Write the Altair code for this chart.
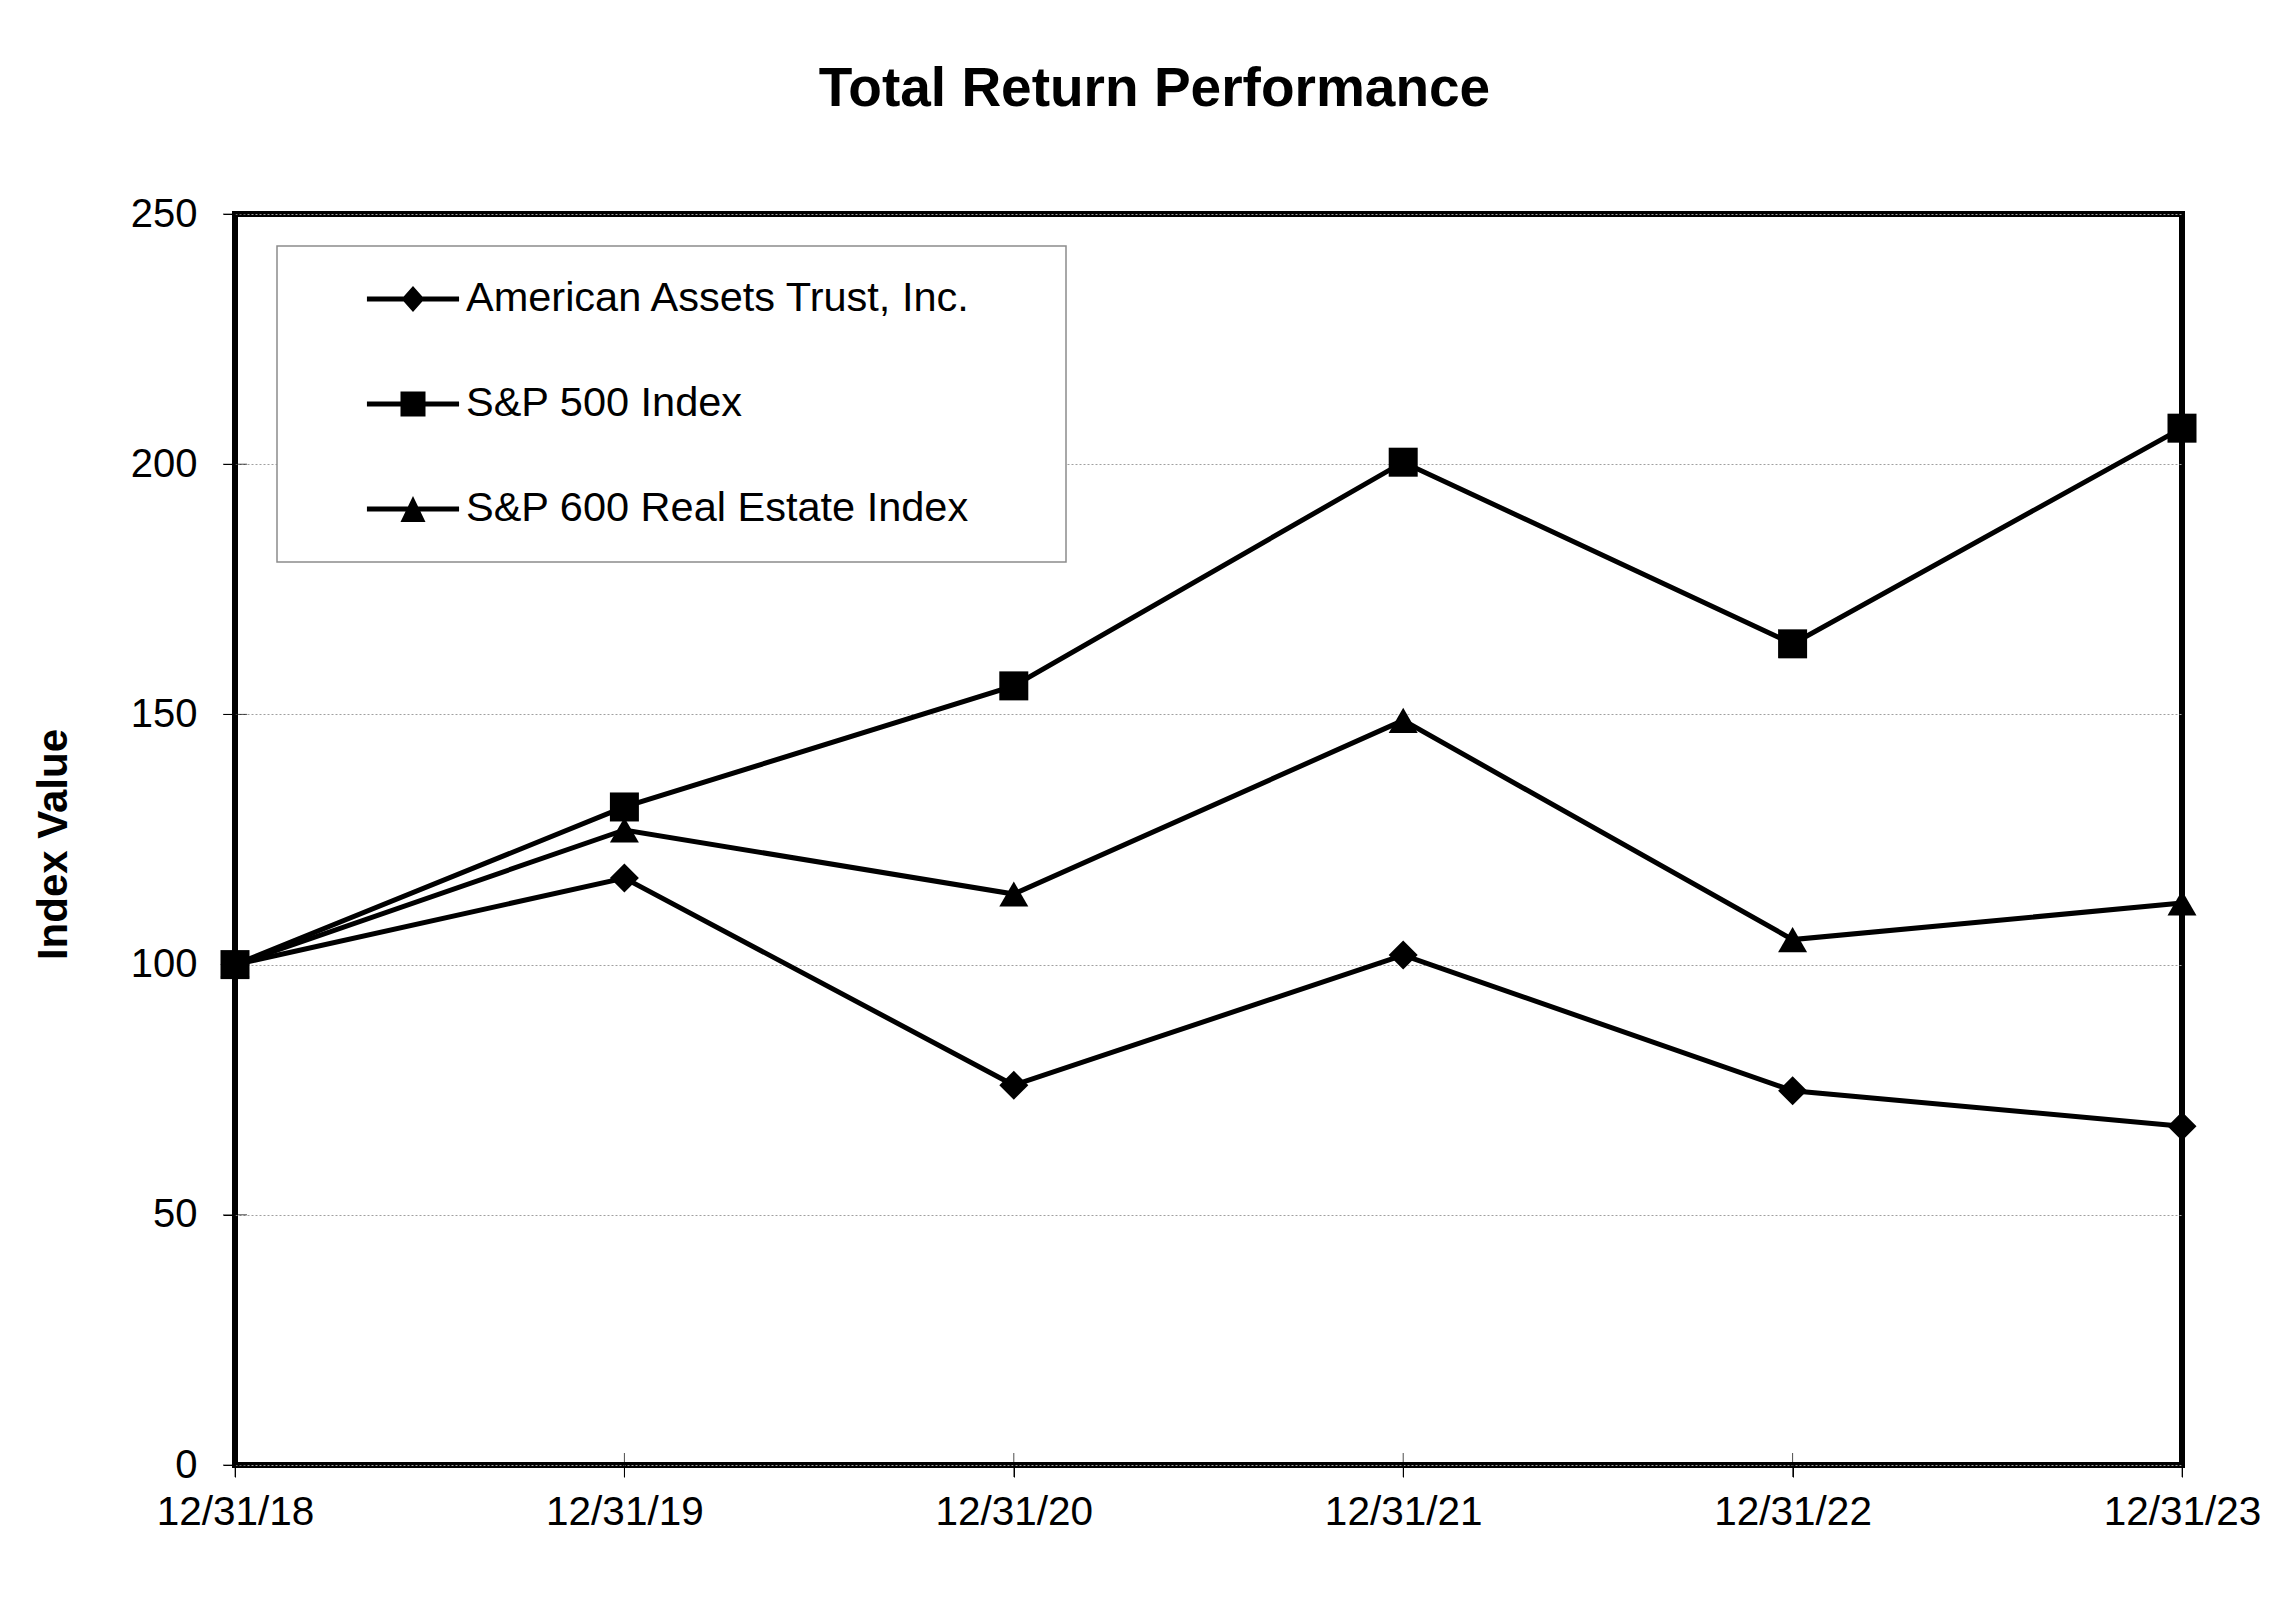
import altair as alt
import pandas as pd

dates = ["12/31/18", "12/31/19", "12/31/20", "12/31/21", "12/31/22", "12/31/23"]
series = ["American Assets Trust, Inc.", "S&P 500 Index", "S&P 600 Real Estate Index"]
aat = [100, 117.3, 75.9, 101.9, 74.8, 67.7]
sp500 = [100, 131.5, 155.7, 200.4, 164.1, 207.2]
sp600re = [100, 126.9, 114.1, 148.8, 105.0, 112.3]
y_ticks = [0, 50, 100, 150, 200, 250]

rows = []
for name, vals in zip(series, [aat, sp500, sp600re]):
    for d, v in zip(dates, vals):
        rows.append({"date": d, "series": name, "value": v})
df = pd.DataFrame(rows)

FONT = "Liberation Sans"

x_enc = alt.X(
    "date:O", sort=dates,
    scale=alt.Scale(type="point", padding=0),
    axis=alt.Axis(title=None, labelAngle=0, labelFontSize=40.5, labelFont=FONT,
                  labelColor="black", tickSize=12, tickColor="black", tickWidth=1,
                  labelPadding=15, domain=False, grid=False, labelOverlap=False),
)
y_enc = alt.Y(
    "value:Q",
    scale=alt.Scale(domain=[0, 250], nice=False, zero=True),
    axis=alt.Axis(values=y_ticks, title="Index Value", titleFontSize=42, titleFont=FONT,
                  titleFontWeight="bold", titleColor="black", titleAngle=270,
                  titleX=-182, titleY=630, titleAlign="center", titleBaseline="middle",
                  labelFontSize=40, labelFont=FONT, labelColor="black", labelPadding=26,
                  tickSize=12, tickColor="black", tickWidth=1, domain=False,
                  grid=True, gridColor="#a0a0a0", gridDash=[2, 2], gridWidth=1),
)

base = alt.Chart(df)

lines = base.mark_line(color="black", strokeWidth=5).encode(
    x=x_enc, y=y_enc, detail="series:N"
)

points = base.mark_point(filled=True, color="black", size=841, opacity=1, strokeWidth=0).encode(
    x=x_enc, y=y_enc,
    shape=alt.Shape("series:N", scale=alt.Scale(
        domain=series, range=["diamond", "square", "triangle-up"]), legend=None),
)

# legend symbols: horizontal line segment + marker, drawn as filled paths
bar = "M-0.98,-0.053L0.98,-0.053L0.98,0.053L-0.98,0.053Z"
pad = "M0,-1L0,-1L0,-1ZM0,1L0,1L0,1Z"
legend_paths = [
    bar + "M0,-0.277L0.245,0L0,0.277L-0.245,0Z" + pad,
    bar + "M-0.266,-0.266L0.266,-0.266L0.266,0.266L-0.266,0.266Z" + pad,
    bar + "M0,-0.277L0.266,0.277L-0.266,0.277Z" + pad,
]
legend_layer = base.transform_filter("false").mark_point(
    filled=True, fill="black", opacity=1, strokeWidth=0
).encode(
    x=x_enc, y=y_enc,
    shape=alt.Shape("series:N", scale=alt.Scale(domain=series, range=legend_paths),
                    legend=alt.Legend(
                        title=".", titleOrient="right", titleColor="white",
                        titleFontSize=10, titlePadding=85, titleBaseline="top",
                        orient="none", legendX=42, legendY=32,
                        direction="vertical", symbolSize=8836, symbolOffset=83,
                        labelOffset=6, rowPadding=11, labelFontSize=41.5, labelFont=FONT,
                        labelColor="black", labelLimit=2000,
                        symbolFillColor="black", symbolStrokeWidth=0,
                        padding=6, fillColor="white", strokeColor="#8c8c8c")),
)

inner_xt = alt.Chart(pd.DataFrame({"date": dates, "value": [y_ticks[0]] * len(dates)})).mark_tick(
    orient="vertical", size=24, thickness=1, color="black"
).encode(x=x_enc, y=y_enc)

inner_yt = alt.Chart(pd.DataFrame({"date": [dates[0]] * len(y_ticks), "value": y_ticks})).mark_tick(
    orient="horizontal", size=24, thickness=1, color="black"
).encode(x=x_enc, y=y_enc)

chart = alt.layer(inner_xt, inner_yt, lines, points, legend_layer).resolve_scale(
    shape="independent"
).properties(
    width=1947, height=1251,
    autosize=alt.AutoSizeParams(type="none"),
    padding={"left": 227, "top": 206, "right": 99, "bottom": 125},
    title=alt.TitleParams("Total Return Performance", fontSize=55, font=FONT,
                          fontWeight="bold", color="black", anchor="middle",
                          frame="group", dx=-54, offset=33, baseline="alphabetic"),
).configure_view(stroke="black", strokeWidth=6).configure_legend(strokeWidth=1.5)

chart.save("out.html", embed_options={"renderer": "svg", "actions": False})
